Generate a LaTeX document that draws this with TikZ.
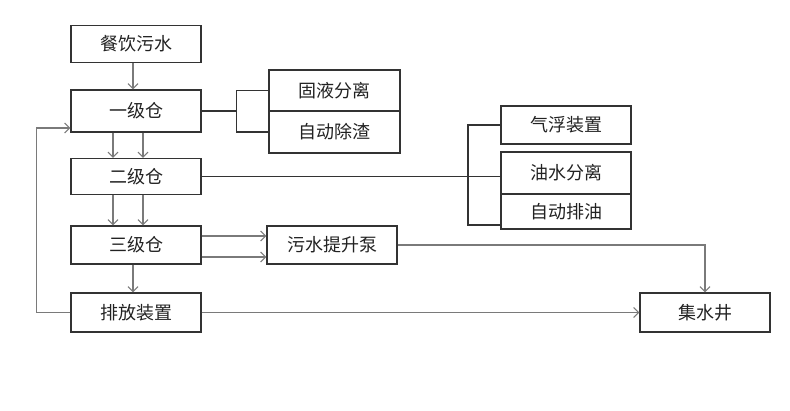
\documentclass[tikz,border=0pt]{standalone}
\usepackage{fontspec}
\setmainfont{Noto Sans CJK SC}
\usetikzlibrary{arrows.meta}
\usetikzlibrary{positioning}
\definecolor{boxline}{HTML}{333333}
\definecolor{flowline}{HTML}{7A7A7A}
\definecolor{textcol}{HTML}{222222}

\begin{document}
\begin{tikzpicture}[x=1pt, y=-1pt,
  box/.style={draw=boxline, line width=1.2pt, minimum width=130pt, inner sep=0pt,
    text=textcol, font=\fontsize{18}{21}\selectfont},
  flow/.style={draw=flowline, line width=1.1pt, -{Straight Barb[length=5pt, width=10pt]}},
  link/.style={draw=boxline, line width=1.1pt}]

  \useasboundingbox (0,0) rectangle (790,410);

  % left column
  \node[box, minimum height=37pt] (raw) at (136,44) {餐饮污水};
  \node[box, minimum height=42pt] (tank1) at (136,111) {一级仓};
  \node[box, minimum height=36pt] (tank2) at (136,176.5) {二级仓};
  \node[box, minimum height=38pt] (tank3) at (136,245) {三级仓};
  \node[box, minimum height=39pt] (discharge) at (136,312.5) {排放装置};

  % side units
  \node[box, minimum width=131pt, minimum height=41pt] (solid) at (334.5,90.5) {固液分离};
  \node[box, minimum width=131pt, minimum height=42pt] (slag) at (334.5,132) {自动除渣};
  \node[box, minimum height=38pt] (float) at (566,125) {气浮装置};
  \node[box, minimum height=42pt] (oilsep) at (566,173) {油水分离};
  \node[box, minimum height=35pt] (oildrain) at (566,211.5) {自动排油};
  \node[box, minimum height=38pt] (pump) at (332,245) {污水提升泵};
  \node[box, minimum height=39pt] (well) at (705,312.5) {集水井};

  % main flow
  \draw[flow] ([xshift=-3pt]raw.south) -- ([xshift=-3pt]tank1.north);
  \foreach \dx in {-23,7} {
    \draw[flow] ([xshift=\dx pt]tank1.south) -- ([xshift=\dx pt]tank2.north);
    \draw[flow] ([xshift=\dx pt]tank2.south) -- ([xshift=\dx pt]tank3.north);
  }
  \draw[flow] ([xshift=-3pt]tank3.south) -- ([xshift=-3pt]discharge.north);
  \draw[flow] ([yshift=9pt]tank3.east) -- ([yshift=9pt]tank3.east -| pump.west);
  \draw[flow] ([yshift=-12pt]tank3.east) -- ([yshift=-12pt]tank3.east -| pump.west);
  \draw[flow] (pump.east) -| (well.north);
  \draw[flow] (discharge.east) -- (well.west);
  \draw[flow] (discharge.west) -- ++(-34,0) |- ([yshift=-17pt]tank1.west);

  % brackets
  \coordinate (b1) at ([xshift=35pt]tank1.east);
  \draw[link] (tank1.east) -- (b1);
  \draw[link] (solid.west) -| (b1) |- (slag.west);

  \coordinate (b2) at (468,176.5);
  \draw[link] (tank2.east) -- (tank2.east -| oilsep.west);
  \draw[link] (float.west) -| (b2) |- ([yshift=-13.5pt]oildrain.west);
\end{tikzpicture}
\end{document}
